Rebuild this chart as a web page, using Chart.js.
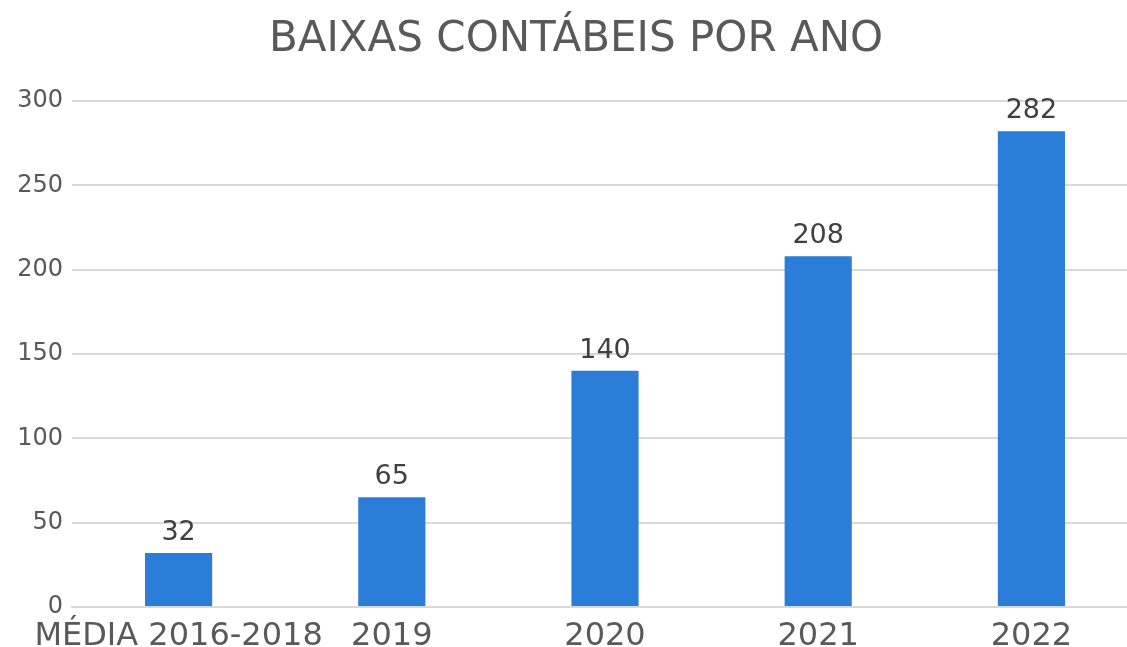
<!DOCTYPE html>
<html>
<head>
<meta charset="utf-8">
<script src="https://cdn.jsdelivr.net/npm/chart.js@4"></script>
<style>
  html, body { margin: 0; padding: 0; overflow: hidden; background: #fff; }
  .chart-box { width: 1138px; height: 647px; }
</style>
</head>
<body>
<div class="chart-box"><canvas id="myChart"></canvas></div>
<script>
// data
const categories = ["MÉDIA 2016-2018", "2019", "2020", "2021", "2022"];
const baixas = [32, 65, 140, 208, 282];
const yTicks = [0, 50, 100, 150, 200, 250, 300];
const chartTitle = 'BAIXAS CONTÁBEIS POR ANO';

const FONT = "'DejaVu Sans', sans-serif";

// title + value labels
const textPlugin = {
  id: 'textPlugin',
  afterDatasetsDraw(chart) {
    const ctx = chart.ctx;
    const meta = chart.getDatasetMeta(0);
    ctx.save();
    ctx.font = '27px ' + FONT;
    ctx.fillStyle = '#404040';
    ctx.textAlign = 'center';
    ctx.textBaseline = 'alphabetic';
    meta.data.forEach((bar, i) => {
      ctx.fillText(chart.data.datasets[0].data[i], bar.x, bar.y - 13);
    });
    // title
    ctx.font = '42px ' + FONT;
    ctx.fillStyle = '#595959';
    ctx.textBaseline = 'middle';
    ctx.fillText(chartTitle, 576, 40);
    ctx.restore();
  }
};

const data = {
  labels: categories,
  datasets: [{
    label: 'Baixas',
    data: baixas,
    backgroundColor: '#2A7ED8',
    borderWidth: 0,
    categoryPercentage: 1,
    barPercentage: 0.315,
  }]
};

const config = {
  type: 'bar',
  data: data,
  options: {
    responsive: true,
    maintainAspectRatio: false,
    animation: false,
    layout: { padding: { left: 0, right: 0, top: 101, bottom: 0 } },
    plugins: {
      legend: { display: false },
      tooltip: { enabled: false },
      title: { display: false },
    },
    scales: {
      x: {
        grid: { display: false, drawTicks: false },
        border: { display: true, color: '#d9d9d9', width: 2 },
        ticks: {
          color: '#595959',
          font: { family: FONT, size: 32 },
          padding: 10,
          maxRotation: 0,
          autoSkip: false,
        },
        afterFit(scale) { scale.height = 40; },
      },
      y: {
        min: 0,
        max: 300,
        afterBuildTicks(scale) { scale.ticks = yTicks.map(v => ({ value: v })); },
        grid: { color: '#d9d9d9', lineWidth: 2, drawTicks: false },
        border: { display: false },
        ticks: {
          color: '#595959',
          font: { family: FONT, size: 24 },
          padding: 9,
        },
        afterFit(scale) { scale.width = 72; },
      },
    },
  },
  plugins: [textPlugin],
};

const myChart = new Chart(document.getElementById('myChart'), config);
</script>
</body>
</html>
